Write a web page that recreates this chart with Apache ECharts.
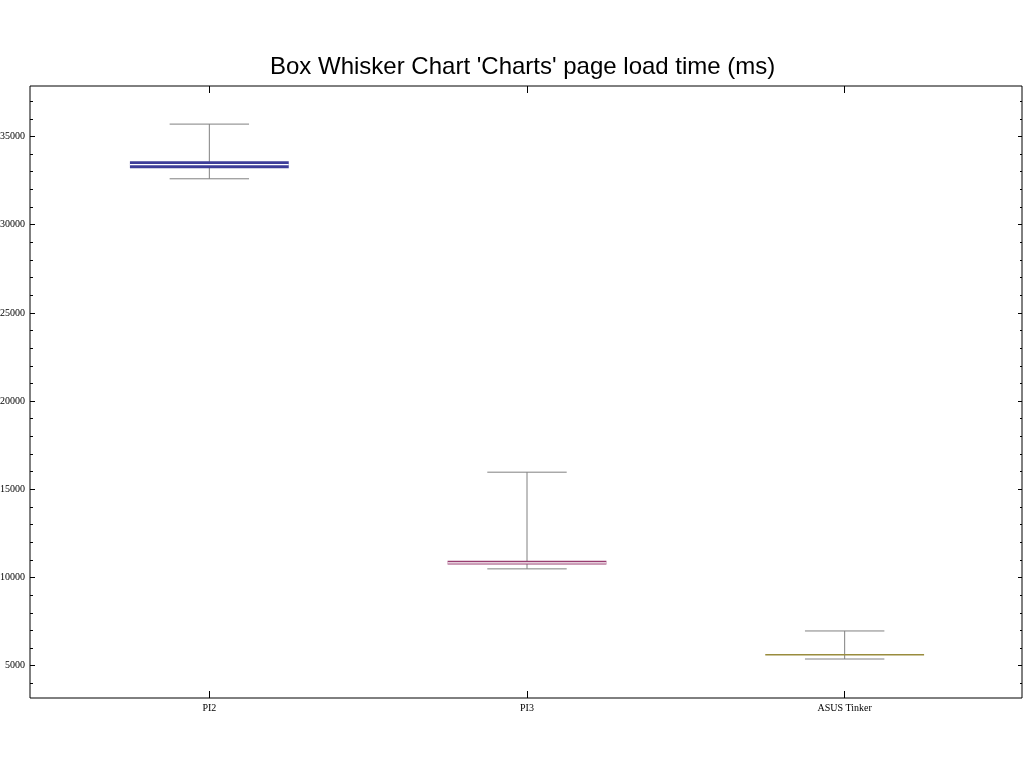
<!DOCTYPE html>
<html>
<head>
<meta charset="utf-8">
<script src="https://cdn.jsdelivr.net/npm/echarts@6/dist/echarts.min.js"></script>
<style>
  html, body { margin: 0; padding: 0; background: #fff; }
  #grafico { width: 1024px; height: 768px; }
</style>
</head>
<body>
<div id="grafico"></div>
<script>
// Datos del gráfico
const categorias = ['PI2', 'PI3', 'ASUS Tinker'];
const minimos = [32600, 10490, 5380];
const cuartil1 = [33200, 10740, 5610];
const medianas = [33400, 10830, 5630];
const cuartil3 = [33600, 10950, 5660];
const maximos = [35700, 15970, 6970];
const colores = ['#3d3d99', '#993d71', '#998c3d'];

const ticksMayores = [5000, 10000, 15000, 20000, 25000, 30000, 35000];
const ticksMenores = [4000, 6000, 7000, 8000, 9000, 11000, 12000, 13000, 14000, 16000, 17000, 18000, 19000,
  21000, 22000, 23000, 24000, 26000, 27000, 28000, 29000, 31000, 32000, 33000, 34000, 36000, 37000];

const yMin = 3170;
const yMax = 37860;

const filas = categorias.map((c, i) => [i, minimos[i], cuartil1[i], medianas[i], cuartil3[i], maximos[i]]);

const fuenteEje = { fontFamily: 'Liberation Serif', fontSize: 10, color: '#000' };

function ejeY(grid, pos, conEtiquetas, valores, largo) {
  return {
    type: 'value', gridIndex: grid, position: pos, min: yMin, max: yMax,
    axisLine: { show: false },
    splitLine: { show: false },
    axisTick: { show: true, inside: true, length: largo, customValues: valores, lineStyle: { color: '#000', width: 1 } },
    axisLabel: conEtiquetas
      ? Object.assign({ show: true, margin: 5, customValues: ticksMayores, formatter: v => String(v) }, fuenteEje)
      : { show: false }
  };
}

function dibujarCaja(params, api) {
  const i = api.value(0);
  const centro = api.coord([i, api.value(3)]);
  const banda = api.size([1, 0])[0];
  const anchoCaja = banda * 0.5;
  const anchoTope = banda * 0.25;
  const x = centro[0];
  const yBajo = api.coord([i, api.value(1)])[1];
  const yMed = centro[1];
  const yQ3 = api.coord([i, api.value(4)])[1];
  const yAlto = api.coord([i, api.value(5)])[1];
  const gris = { stroke: '#808080', lineWidth: 1 };
  const alto = Math.max(api.coord([i, api.value(2)])[1] - yQ3, 1.5);
  return {
    type: 'group',
    children: [
      { type: 'line', shape: { x1: x, y1: yAlto, x2: x, y2: yBajo }, style: gris },
      { type: 'line', shape: { x1: x - anchoTope / 2, y1: yAlto, x2: x + anchoTope / 2, y2: yAlto }, style: gris },
      { type: 'line', shape: { x1: x - anchoTope / 2, y1: yBajo, x2: x + anchoTope / 2, y2: yBajo }, style: gris },
      { type: 'rect', shape: { x: x - anchoCaja / 2, y: yQ3, width: anchoCaja, height: alto }, style: { fill: colores[i] } },
      { type: 'line', shape: { x1: x - anchoCaja / 2, y1: yMed, x2: x + anchoCaja / 2, y2: yMed },
        style: { stroke: '#fff', lineWidth: alto > 3 ? 1.3 : 0 } }
    ]
  };
}

const opciones = {
  animation: false,
  backgroundColor: '#fff',
  title: {
    text: "Box Whisker Chart 'Charts' page load time (ms)",
    left: 265,
    top: 50,
    textStyle: { fontFamily: 'Liberation Sans', fontSize: 24, fontWeight: 'normal', color: '#000' }
  },
  grid: [
    { left: 30, right: 2, top: 86, bottom: 70, outerBoundsMode: 'none', show: true, borderColor: '#000', borderWidth: 1, backgroundColor: 'transparent' },
    { left: 50.5, right: 20.5, top: 86, bottom: 70, outerBoundsMode: 'none' }
  ],
  xAxis: [
    { type: 'value', gridIndex: 0, show: false },
    {
      type: 'category', gridIndex: 1, data: categorias, position: 'bottom',
      axisLine: { show: false },
      axisTick: { show: true, inside: true, length: 7, alignWithLabel: true, lineStyle: { color: '#000' } },
      axisLabel: Object.assign({ margin: 5 }, fuenteEje),
      splitLine: { show: false }
    },
    {
      type: 'category', gridIndex: 1, data: categorias, position: 'top',
      axisLine: { show: false },
      axisTick: { show: true, inside: true, length: 7, alignWithLabel: true, lineStyle: { color: '#000' } },
      axisLabel: { show: false },
      splitLine: { show: false }
    }
  ],
  yAxis: [
    ejeY(0, 'left', true, ticksMayores, 5),
    ejeY(0, 'left', false, ticksMenores, 3),
    ejeY(0, 'right', false, ticksMayores, 4),
    ejeY(0, 'right', false, ticksMenores, 2),
    { type: 'value', gridIndex: 1, min: yMin, max: yMax, show: false }
  ],
  series: [
    {
      type: 'custom',
      xAxisIndex: 1,
      yAxisIndex: 4,
      renderItem: dibujarCaja,
      encode: { x: 0, y: [1, 2, 3, 4, 5] },
      data: filas
    }
  ]
};

const miGrafico = echarts.init(document.getElementById('grafico'));
miGrafico.setOption(opciones);
</script>
</body>
</html>
